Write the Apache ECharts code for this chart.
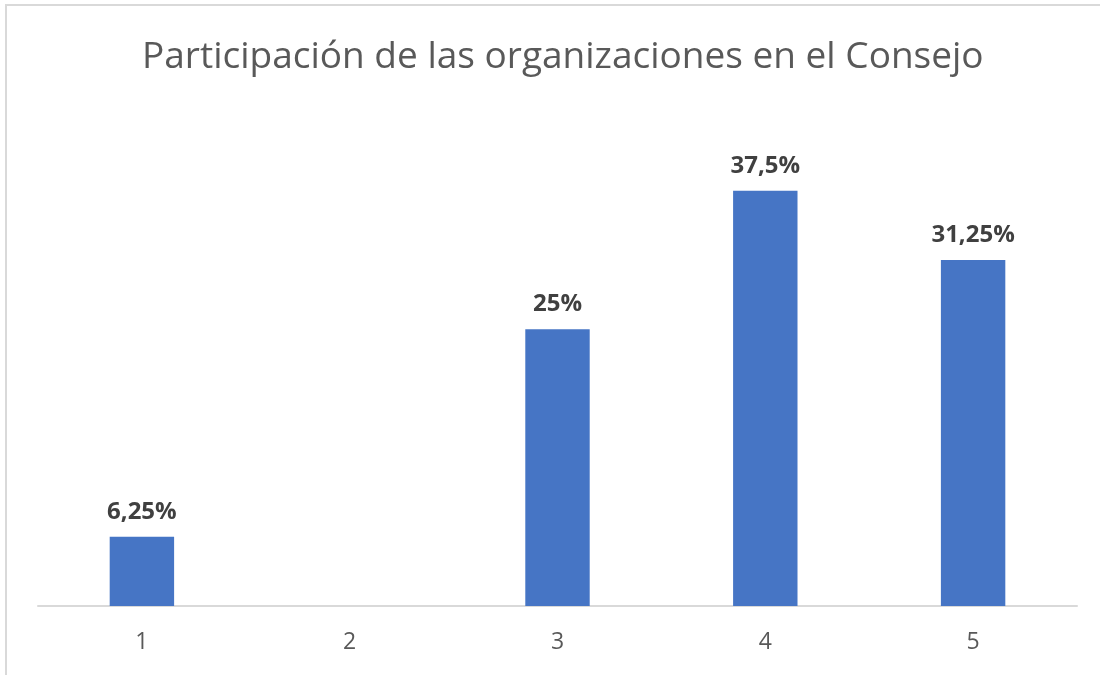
<!DOCTYPE html>
<html>
<head>
<meta charset="utf-8">
<script src="https://cdn.jsdelivr.net/npm/echarts@6/dist/echarts.min.js"></script>
<style>
  html, body { margin: 0; padding: 0; background: #fff; }
  #frame { position: absolute; left: 5px; top: 4px; width: 1200px; height: 800px;
           border-top: 2px solid #d9d9d9; border-left: 2px solid #d9d9d9; }
  #chart { position: absolute; left: 0; top: 0; width: 1100px; height: 675px; }
</style>
</head>
<body>
<div id="frame"></div>
<div id="chart"></div>
<script>
const titleText = 'Participación de las organizaciones en el Consejo';
const categories = ['1', '2', '3', '4', '5'];
const values = [6.25, 0, 25, 37.5, 31.25];

const chart = echarts.init(document.getElementById('chart'));
chart.setOption({
  animation: false,
  title: {
    text: titleText,
    left: 137,
    top: 34,
    textStyle: { fontFamily: 'Open Sans', fontSize: 37, fontWeight: 'normal', color: '#595959' }
  },
  grid: { left: 38, right: 23, top: 163, bottom: 69 },
  xAxis: {
    type: 'category',
    data: categories,
    axisLine: { lineStyle: { color: '#d9d9d9', width: 2 } },
    axisTick: { show: false },
    axisLabel: { fontFamily: 'Open Sans', fontSize: 23, color: '#595959', margin: 25 }
  },
  yAxis: {
    type: 'value',
    min: 0,
    max: 40,
    show: false,
    splitLine: { show: false }
  },
  series: [{
    type: 'bar',
    data: values,
    barWidth: '31%',
    itemStyle: { color: '#4675C5' },
    label: {
      show: true,
      position: 'top',
      distance: 13,
      fontFamily: 'Open Sans',
      fontSize: 24,
      fontWeight: 'bold',
      color: '#404040',
      formatter: p => p.value === 0 ? '' : String(p.value).replace('.', ',') + '%'
    }
  }]
});
</script>
</body>
</html>
